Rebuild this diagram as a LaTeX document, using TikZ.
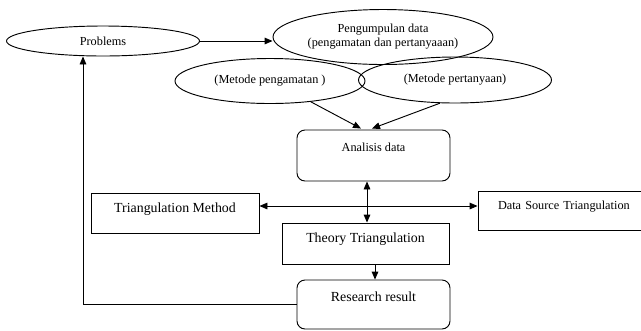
\documentclass[tikz,border=0pt]{standalone}
\usepackage{fontspec}
\setmainfont{Liberation Serif}
\usetikzlibrary{shapes.geometric,arrows.meta,calc}
\begin{document}
\begin{tikzpicture}[x=0.75pt,y=-0.75pt,
  line width=0.7pt,
  >={Triangle[length=6pt,width=5pt]},
  small/.style={font=\fontsize{9.2}{10.5}\selectfont},
  large/.style={font=\fontsize{10.4}{12}\selectfont},
  oval/.style={draw,ellipse,inner sep=0pt,small,align=center},
  rbox/.style={draw,rectangle,rounded corners=6pt,inner sep=0pt,text height=7pt},
  sbox/.style={draw,rectangle,inner sep=0pt,text height=7pt}]
\useasboundingbox (0,0) rectangle (641,330);
\clip (0,0) rectangle (641,330);
% ellipses
\node[oval,minimum width=144.75pt,minimum height=22.5pt] (pr) at (103,41) {Problems};
\node[oval,minimum width=165pt,minimum height=41.25pt] (pg) at (383,37) {Pengumpulan data\\(pengamatan dan pertanyaaan)};
\node[oval,minimum width=142.5pt,minimum height=33.75pt] (mp) at (270,81) {(Metode pengamatan )};
\node[oval,minimum width=144.75pt,minimum height=34.5pt] (mt) at (455,80) {(Metode pertanyaan)};
% boxes
\node[rbox,small,text depth=13pt,minimum width=114.75pt,minimum height=38.25pt] (ad) at (373.5,155.5) {Analisis data};
\node[sbox,large,text depth=8.5pt,minimum width=126pt,minimum height=30pt] (tm) at (175,213) {Triangulation Method};
\node[sbox,small,text depth=8pt,inner xsep=15pt,text width=150pt,align=left,minimum height=29.25pt] (ds) at (598,210.5) {Data Source Triangulation};
\node[sbox,large,text depth=8pt,minimum width=125.25pt,minimum height=30.75pt] (tt) at (365.5,243.5) {Theory Triangulation};
\node[rbox,large,text depth=12pt,minimum width=114.75pt,minimum height=36.75pt] (rr) at (373.5,304.5) {Research result};
% helper coordinates
\coordinate (hx) at (367,206);
\coordinate (dx) at (375,0);
\coordinate (fx) at (83,0);
% connectors
\draw[->] (pr.east) -- (pr.east -| pg.west);
\draw[->] (mp.-27) -- ($(ad.north)+(-12.5,-1)$);
\draw[->] (mt.-123) -- ($(ad.north)+(-1.5,-1)$);
\draw[<->] (ad.south -| hx) -- (tt.north -| hx);
\draw[<->] (tm.east |- hx) -- (ds.west |- hx);
\draw[->] (tt.south -| dx) -- (rr.north -| dx);
\draw[->] (rr.west) -| (pr.south -| fx);
\end{tikzpicture}
\end{document}
